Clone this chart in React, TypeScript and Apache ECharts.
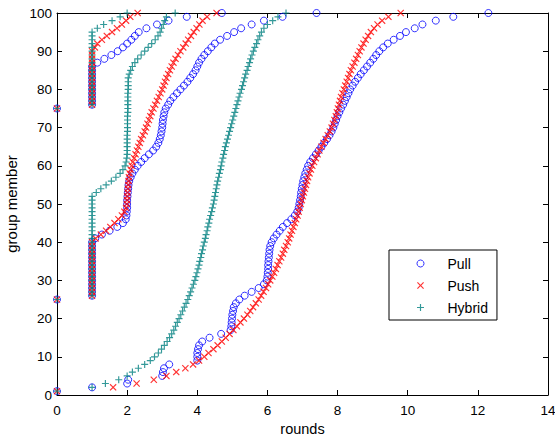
import React, { useEffect, useRef } from "react";
import * as echarts from "echarts";

// group member index at which each curve starts (sources)
const curveStarts = [1, 25, 75];

// rounds for members 1..100, 25..100, 75..100
const pullFrom1 = [
  0, 1, 2, 2.03, 3, 3.02, 3.05, 3.2, 4, 4,
  4, 4.02, 4.05, 4.14, 4.35, 4.68, 4.95, 4.97, 4.98, 4.99,
  5, 5.02, 5.04, 5.1, 5.2, 5.35, 5.55, 5.75, 5.9, 5.98,
  6, 6.01, 6.02, 6.02, 6.03, 6.04, 6.05, 6.06, 6.08, 6.12,
  6.18, 6.26, 6.35, 6.44, 6.56, 6.68, 6.78, 6.85, 6.89, 6.91,
  6.93, 6.95, 6.96, 6.98, 7, 7.02, 7.05, 7.08, 7.12, 7.16,
  7.22, 7.3, 7.38, 7.46, 7.54, 7.62, 7.7, 7.77, 7.83, 7.88,
  7.92, 7.96, 8, 8.05, 8.1, 8.16, 8.21, 8.26, 8.31, 8.36,
  8.43, 8.5, 8.58, 8.66, 8.75, 8.84, 8.93, 9.02, 9.1, 9.19,
  9.3, 9.43, 9.6, 9.78, 9.95, 10.2, 10.42, 10.8, 11.3, 12.3,
];
const pullFrom25 = [
  0, 1, 1, 1, 1, 1, 1, 1, 1, 1, 1, 1, 1, 1, 1, 1,
  1.09, 1.28, 1.5, 1.72, 1.88, 1.96, 1.98, 1.99, 2, 2,
  2, 2.01, 2.02, 2.03, 2.04, 2.06, 2.1, 2.15, 2.22, 2.3,
  2.4, 2.5, 2.62, 2.74, 2.83, 2.89, 2.93, 2.96, 2.98, 3,
  3.01, 3.02, 3.04, 3.06, 3.1, 3.17, 3.23, 3.32, 3.42, 3.52,
  3.62, 3.72, 3.8, 3.88, 3.95, 4, 4.05, 4.12, 4.2, 4.3,
  4.4, 4.5, 4.65, 4.85, 5.05, 5.25, 5.55, 5.9, 6.43, 7.4,
];
const pullFrom75 = [
  0, 1, 1, 1, 1, 1, 1, 1, 1, 1, 1, 1,
  1.15, 1.35, 1.55, 1.73, 1.88, 2, 2.12, 2.22, 2.33, 2.55, 2.85, 3.18, 3.7, 4.7,
];

const pushFrom1 = [
  0, 1.6, 2.27, 2.76, 3.12, 3.4, 3.66, 3.88, 4.05, 4.2,
  4.32, 4.46, 4.58, 4.7, 4.81, 4.92, 5.03, 5.13, 5.23, 5.33,
  5.43, 5.51, 5.59, 5.67, 5.75, 5.82, 5.89, 5.96, 6.02, 6.08,
  6.14, 6.19, 6.24, 6.29, 6.34, 6.39, 6.44, 6.48, 6.53, 6.58,
  6.62, 6.66, 6.7, 6.74, 6.78, 6.82, 6.86, 6.89, 6.92, 6.95,
  6.98, 7.01, 7.04, 7.07, 7.1, 7.13, 7.16, 7.2, 7.24, 7.28,
  7.33, 7.38, 7.43, 7.48, 7.54, 7.6, 7.66, 7.72, 7.78, 7.83,
  7.87, 7.91, 7.95, 7.98, 8.01, 8.04, 8.07, 8.1, 8.14, 8.18,
  8.22, 8.26, 8.3, 8.34, 8.38, 8.43, 8.48, 8.53, 8.58, 8.63,
  8.68, 8.74, 8.8, 8.87, 8.95, 9.04, 9.14, 9.27, 9.45, 9.8,
];
const pushFrom25 = [
  0, 1, 1, 1, 1, 1, 1, 1, 1, 1, 1, 1, 1, 1, 1, 1,
  1.1, 1.25, 1.4, 1.52, 1.64, 1.75, 1.85, 1.92, 1.97, 1.99,
  2, 2, 2.01, 2.02, 2.03, 2.04, 2.05, 2.07, 2.1, 2.13,
  2.16, 2.2, 2.24, 2.28, 2.32, 2.36, 2.4, 2.45, 2.5, 2.54,
  2.58, 2.62, 2.66, 2.7, 2.75, 2.8, 2.85, 2.9, 2.95, 3,
  3.04, 3.08, 3.12, 3.17, 3.22, 3.27, 3.32, 3.38, 3.45, 3.52,
  3.6, 3.67, 3.74, 3.82, 3.9, 3.98, 4.06, 4.15, 4.28, 4.55,
];
const pushFrom75 = [
  0, 1, 1, 1, 1, 1, 1, 1, 1, 1, 1, 1, 1, 1, 1, 1,
  1.08, 1.15, 1.28, 1.42, 1.57, 1.71, 1.85, 1.97, 2.09, 2.3,
];

const hybridFrom1 = [
  0, 1, 1.38, 1.76, 2, 2.15, 2.32, 2.5, 2.66, 2.78,
  2.89, 2.98, 3.06, 3.14, 3.21, 3.27, 3.33, 3.38, 3.43, 3.48,
  3.53, 3.58, 3.63, 3.68, 3.73, 3.77, 3.81, 3.85, 3.89, 3.93,
  3.96, 3.99, 4.02, 4.05, 4.07, 4.1, 4.12, 4.15, 4.17, 4.2,
  4.23, 4.25, 4.28, 4.3, 4.33, 4.35, 4.38, 4.41, 4.43, 4.46,
  4.48, 4.5, 4.52, 4.54, 4.56, 4.58, 4.61, 4.63, 4.66, 4.68,
  4.7, 4.73, 4.75, 4.78, 4.8, 4.83, 4.86, 4.89, 4.92, 4.95,
  4.98, 5.01, 5.04, 5.07, 5.1, 5.13, 5.16, 5.19, 5.22, 5.26,
  5.29, 5.32, 5.35, 5.38, 5.42, 5.45, 5.49, 5.52, 5.56, 5.6,
  5.64, 5.69, 5.73, 5.78, 5.83, 5.9, 6, 6.15, 6.3, 6.53,
];
const hybridFrom25 = [
  0, 1, 1, 1, 1, 1, 1, 1, 1, 1, 1, 1, 1, 1, 1, 1, 1, 1, 1, 1, 1, 1, 1, 1, 1, 1, 1, 1,
  1.12, 1.25, 1.4, 1.55, 1.68, 1.8, 1.88, 1.94, 1.97, 1.99,
  2, 2, 2, 2, 2, 2, 2.01, 2.01, 2.01, 2.01, 2.01, 2.02, 2.02, 2.02, 2.02, 2.02,
  2.02, 2.03, 2.03, 2.03, 2.03,
  2.06, 2.1, 2.15, 2.22, 2.3, 2.4, 2.5, 2.6, 2.7, 2.8,
  2.88, 2.94, 2.98, 3.03, 3.07, 3.12, 3.37,
];
const hybridFrom75 = [
  0, 1, 1, 1, 1, 1, 1, 1, 1, 1, 1, 1, 1, 1, 1, 1, 1, 1, 1, 1, 1,
  1.15, 1.33, 1.57, 1.8, 2,
];

const xTicks = { min: 0, max: 14, interval: 2 };
const yTicks = { min: 0, max: 100, interval: 10 };

const seriesNames = ["Pull", "Push", "Hybrid"];

function toPoints(curves: number[][]) {
  const out: number[][] = [];
  curves.forEach((xs, k) => {
    xs.forEach((x, i) => out.push([x, curveStarts[k] + i]));
  });
  return out;
}

const FONT = "Liberation Sans, Arial, Helvetica, sans-serif";
const PLUS = "path://M5,0h2v5h5v2h-5v5h-2v-5h-5v-2h5z";
const CROSS =
  "path://M0,1.41L1.41,0L6,4.59L10.59,0L12,1.41L7.41,6L12,10.59L10.59,12L6,7.41L1.41,12L0,10.59L4.59,6Z";

export default function App() {
  const ref = useRef<HTMLDivElement>(null);
  useEffect(() => {
    document.body.style.margin = "0";
    if (!ref.current) return;
    const chart = echarts.init(ref.current, undefined, { renderer: "svg" });
    const axisCommon = {
      type: "value" as const,
      axisLine: { show: true, onZero: false, lineStyle: { color: "#000", width: 1 } },
      axisTick: { show: true, inside: true, length: 5, lineStyle: { color: "#000" } },
      splitLine: { show: false },
    };
    chart.setOption({
      animation: false,
      backgroundColor: "#fff",
      grid: {
        left: 57,
        right: 7,
        top: 13,
        bottom: 42,
        containLabel: false,
        outerBoundsMode: "none",
      },
      legend: {
        orient: "vertical",
        left: 389,
        top: 250,
        data: seriesNames,
        backgroundColor: "#fff",
        borderColor: "#000",
        borderWidth: 1,
        borderRadius: 0,
        padding: [6, 9, 5, 27.5],
        itemWidth: 25,
        itemHeight: 7,
        itemGap: 7,
        itemStyle: { borderWidth: 1 },
        textStyle: {
          fontFamily: FONT,
          fontSize: 14,
          color: "#000",
          lineHeight: 15,
          padding: [0, 0, 0, 9.5],
        },
      },
      xAxis: [
        {
          ...axisCommon,
          ...xTicks,
          position: "bottom",
          name: "rounds",
          nameLocation: "middle",
          nameGap: 23,
          nameTextStyle: { fontFamily: FONT, fontSize: 14.5, color: "#000" },
          axisLabel: { fontFamily: FONT, fontSize: 13.5, color: "#000", margin: 8 },
        },
        {
          ...axisCommon,
          ...xTicks,
          position: "top",
          axisLabel: { show: false },
        },
      ],
      yAxis: [
        {
          ...axisCommon,
          ...yTicks,
          position: "left",
          name: "group member",
          nameLocation: "middle",
          nameGap: 33,
          nameTextStyle: { fontFamily: FONT, fontSize: 15, color: "#000" },
          axisLabel: { fontFamily: FONT, fontSize: 13.5, color: "#000", margin: 5 },
        },
        {
          ...axisCommon,
          ...yTicks,
          position: "right",
          axisLabel: { show: false },
        },
      ],
      series: [
        {
          name: "Pull",
          type: "scatter",
          xAxisIndex: 0,
          yAxisIndex: 0,
          symbol: "circle",
          symbolSize: 7,
          itemStyle: { color: "rgba(0,0,0,0)", borderColor: "#0000ff", borderWidth: 1 },
          data: toPoints([pullFrom1, pullFrom25, pullFrom75]),
        },
        {
          name: "Push",
          type: "scatter",
          xAxisIndex: 0,
          yAxisIndex: 0,
          symbol: CROSS,
          symbolSize: 7,
          itemStyle: { color: "#ff0000" },
          data: toPoints([pushFrom1, pushFrom25, pushFrom75]),
        },
        {
          name: "Hybrid",
          type: "scatter",
          xAxisIndex: 0,
          yAxisIndex: 0,
          symbol: PLUS,
          symbolSize: 7,
          itemStyle: { color: "#008080" },
          data: toPoints([hybridFrom1, hybridFrom25, hybridFrom75]),
        },
      ],
    });
    return () => chart.dispose();
  }, []);
  return <div ref={ref} style={{ width: 555, height: 437 }} />;
}
